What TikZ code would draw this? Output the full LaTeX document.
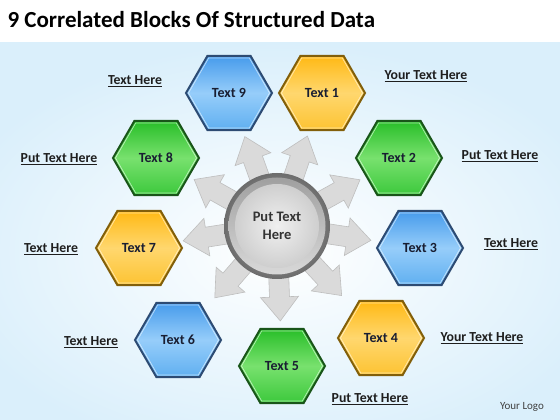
\documentclass[tikz,border=0pt]{standalone}
\usepackage{fontspec}
\setmainfont{Carlito}
\usetikzlibrary{shapes.geometric,calc}
\definecolor{bgblue}{RGB}{218,239,251}
\definecolor{blueA}{RGB}{70,155,235}
\definecolor{blueC}{RGB}{150,205,250}
\definecolor{blueB}{RGB}{95,175,240}
\definecolor{blueedge}{RGB}{45,75,115}
\definecolor{yelA}{RGB}{255,185,20}
\definecolor{yelC}{RGB}{255,215,110}
\definecolor{yelB}{RGB}{252,195,50}
\definecolor{yeledge}{RGB}{130,95,10}
\definecolor{grnA}{RGB}{40,190,40}
\definecolor{grnC}{RGB}{120,225,110}
\definecolor{grnB}{RGB}{60,200,60}
\definecolor{grnedge}{RGB}{25,85,25}
\definecolor{hextext}{RGB}{25,30,50}
\definecolor{lbltext}{RGB}{30,30,30}
\definecolor{arrowfill}{RGB}{218,218,218}
\definecolor{arrowedge}{RGB}{190,190,190}
\tikzset{
  hexbase/.style={regular polygon, regular polygon sides=6, minimum size=86pt,
    inner sep=0pt, line width=2pt, text=hextext,
    font=\bfseries\fontsize{14}{16}\selectfont},
  hexblue/.style={hexbase, draw=blueedge, top color=blueA, bottom color=blueB, middle color=blueC},
  hexyel/.style={hexbase, draw=yeledge, top color=yelA, bottom color=yelB, middle color=yelC},
  hexgrn/.style={hexbase, draw=grnedge, top color=grnA, bottom color=grnB, middle color=grnC},
  hexshine/.style={regular polygon, regular polygon sides=6, minimum size=81pt,
    inner sep=0pt, draw=white, line width=0.7pt, opacity=0.6},
  lbl/.style={text=lbltext, font=\bfseries\fontsize{13.8}{16}\selectfont},
  blockarrow/.style={fill=arrowfill, draw=arrowedge, line width=0.6pt}
}
\begin{document}
\begin{tikzpicture}[x=1pt,y=1pt]
\useasboundingbox (0,0) rectangle (560,420);
\shade[inner color=white, outer color=bgblue] (-60,-40) rectangle (620,378);
\fill[white] (0,378) rectangle (560,420);
\node[anchor=west, font=\bfseries\fontsize{23}{26}\selectfont, text=black] (title) at (4,400) {9 Correlated Blocks Of Structured Data};

\coordinate (c) at (277,194);
% block arrows
\foreach \a in {109.8,71.3,29.1,-8.7,-47.1,-88,-130.9,-171,150.7}{
  \begin{scope}[shift={(c)}, rotate=\a]
    \path[blockarrow] (30,-10) -- (71,-10) -- (71,-19) -- (95,0) -- (71,19) -- (71,10) -- (30,10) -- cycle;
  \end{scope}
}
% center circle
\shade[inner color=gray!55, outer color=gray!85!black] (c) circle[radius=53];
\shade[top color=gray!75, bottom color=gray!30] (c) circle[radius=48.5];
\shade[inner color=gray!12, outer color=gray!38] (c) circle[radius=42];
\node[align=center, text=black!80, font=\bfseries\fontsize{14.5}{18}\selectfont] (center) at (c) {Put Text\\Here};

% hexagons
\node[hexblue] (h9) at (229,327) {Text 9};
\node[hexyel]  (h1) at (322,327) {Text 1};
\node[hexgrn]  (h2) at (399,262) {Text 2};
\node[hexblue] (h3) at (420,172) {Text 3};
\node[hexyel]  (h4) at (381,82) {Text 4};
\node[hexgrn]  (h5) at (282,54) {Text 5};
\node[hexblue] (h6) at (178,80) {Text 6};
\node[hexyel]  (h7) at (139,172) {Text 7};
\node[hexgrn]  (h8) at (156,262) {Text 8};
\foreach \h in {h1,h2,h3,h4,h5,h6,h7,h8,h9}{\node[hexshine] at (\h) {};}

% labels
\node[lbl] (l9) at (135,339) {\underline{Text Here}};
\node[lbl] (l1) at (426,344) {\underline{Your Text Here}};
\node[lbl] (l8) at (59,261) {\underline{Put Text Here}};
\node[lbl] (l2) at (500,264) {\underline{Put Text Here}};
\node[lbl] (l7) at (51,171) {\underline{Text Here}};
\node[lbl] (l3) at (511,176) {\underline{Text Here}};
\node[lbl] (l6) at (91,78) {\underline{Text Here}};
\node[lbl] (l4) at (482,82) {\underline{Your Text Here}};
\node[lbl] (l5) at (370,21) {\underline{Put Text Here}};
\node[text=black!75, font=\fontsize{11}{13}\selectfont] (logo) at (522,13) {Your Logo};
\end{tikzpicture}
\end{document}
